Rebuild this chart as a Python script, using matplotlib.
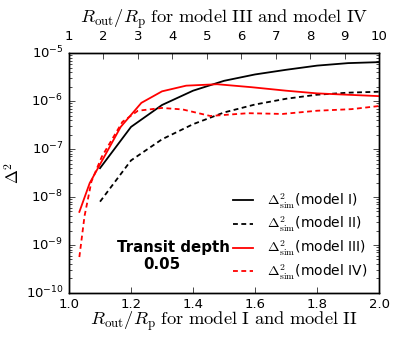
import numpy as np
import matplotlib
matplotlib.use('Agg')
import matplotlib.pyplot as plt

plt.style.use('classic')
plt.rcParams['figure.facecolor'] = 'white'
plt.rcParams['savefig.facecolor'] = 'white'
plt.rcParams['axes.unicode_minus'] = False
plt.rcParams['mathtext.fontset'] = 'cm'
plt.rcParams['font.size'] = 10
plt.rcParams['xtick.labelsize'] = 9.5
plt.rcParams['ytick.labelsize'] = 9.5

# ---- Data ----
# models I and II (bottom axis)
x_12 = [1.1, 1.2, 1.3, 1.4, 1.5, 1.6, 1.7, 1.8, 1.9, 2.0]
d2_model1 = [4.0e-8, 2.9e-7, 8.3e-7, 1.65e-6, 2.65e-6, 3.6e-6, 4.5e-6, 5.5e-6, 6.2e-6, 6.5e-6]
d2_model2 = [8.0e-9, 5.8e-8, 1.6e-7, 3.3e-7, 5.8e-7, 8.5e-7, 1.12e-6, 1.36e-6, 1.5e-6, 1.57e-6]

# models III and IV (top axis)
x_3 = [1.3, 1.6, 2.5, 3.1, 3.7, 4.4, 5.3, 6.3, 7.3, 8.2, 10.0]
d2_model3 = [4.9e-9, 1.95e-8, 2.9e-7, 9.2e-7, 1.6e-6, 2.1e-6, 2.25e-6, 1.95e-6, 1.65e-6, 1.45e-6, 1.27e-6]
x_4 = [1.3, 1.45, 1.65, 1.95, 2.55, 3.0, 3.7, 4.3, 5.1, 6.2, 7.2, 8.2, 9.2, 10.0]
d2_model4 = [5.6e-10, 4.0e-9, 2.1e-8, 6.9e-8, 3.7e-7, 6.3e-7, 7.2e-7, 6.7e-7, 4.9e-7,
             5.6e-7, 5.4e-7, 6.3e-7, 6.8e-7, 7.9e-7]

dash = (3.5, 2.5)

# ---- Plotting ----
fig = plt.figure(figsize=(3.99, 3.43), dpi=100)
ax = fig.add_axes([0.173, 0.146, 0.777, 0.699])

l1, = ax.plot(x_12, d2_model1, color='black', lw=1.3, ls='-')
l2, = ax.plot(x_12, d2_model2, color='black', lw=1.3, ls='--', dashes=dash)
ax.set_yscale('log')
ax.set_xlim(1.0, 2.0)
ax.set_ylim(1e-10, 1e-5)
ax.set_xticks([1.0, 1.2, 1.4, 1.6, 1.8, 2.0])
ax.set_xlabel(r'$R_{\rm out}/R_{\rm p}\ \rm for\ model\ I\ and\ model\ II$', fontsize=13.3, labelpad=-1)
ax.set_ylabel(r'$\Delta^2$', fontsize=12, labelpad=2)

ax2 = ax.twiny()
l3, = ax2.plot(x_3, d2_model3, color='red', lw=1.3, ls='-')
l4, = ax2.plot(x_4, d2_model4, color='red', lw=1.3, ls='--', dashes=dash)
ax2.set_xlim(1, 10)
ax2.set_xticks(range(1, 11))
ax2.tick_params(axis='x', pad=7)
ax2.set_xlabel(r'$R_{\rm out}/R_{\rm p}\ \rm for\ model\ III\ and\ model\ IV$', fontsize=13.3, labelpad=5)

# annotation
ax2.text(0.336, 0.19, 'Transit depth', transform=ax2.transAxes,
         ha='center', va='center', fontsize=10.8, fontweight='bold')
ax2.text(0.298, 0.12, '0.05', transform=ax2.transAxes,
         ha='center', va='center', fontsize=10.8, fontweight='bold')

ax2.legend([l1, l2, l3, l4],
           [r'$\Delta^2_{\rm sim}$(model I)', r'$\Delta^2_{\rm sim}$(model II)',
            r'$\Delta^2_{\rm sim}$(model III)', r'$\Delta^2_{\rm sim}$(model IV)'],
           loc='lower right', frameon=False, fontsize=10, handlelength=2.0,
           handletextpad=0.75, labelspacing=0.33, borderaxespad=0.4)

plt.savefig('out.png', dpi=100)
